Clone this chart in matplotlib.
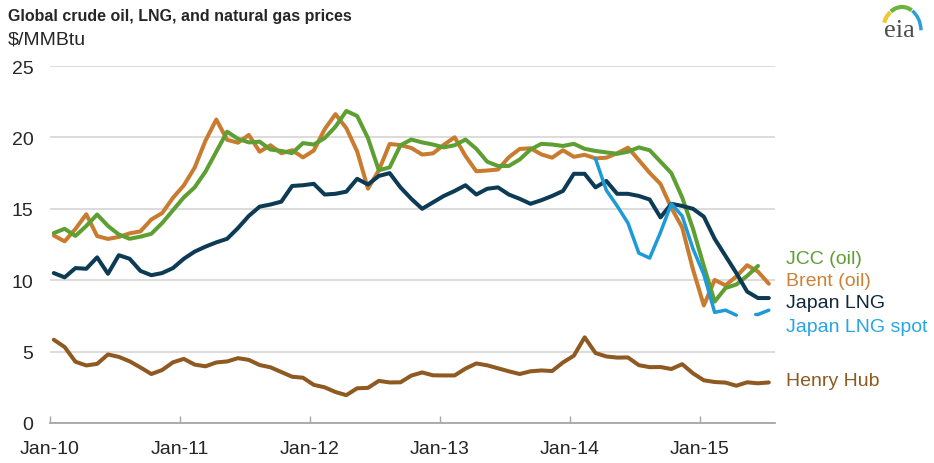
import matplotlib
matplotlib.use("Agg")
import matplotlib.pyplot as plt
import numpy as np
from matplotlib.patches import Arc

plt.rcParams['font.family'] = ['Liberation Sans', 'DejaVu Sans']
plt.rcParams['lines.scale_dashes'] = False

# monthly prices in $/MMBtu, Jan-2010 .. Jul-2015
jcc = [13.3, 13.6, 13.1, 13.8, 14.6, 13.8, 13.2, 12.9, 13.05, 13.25, 14.0, 14.9,
       15.8, 16.5, 17.6, 19.0, 20.4, 19.9, 19.65, 19.7, 19.15, 19.05, 18.9, 19.6,
       19.5, 19.95, 20.75, 21.85, 21.5, 19.95, 17.7, 17.9, 19.45, 19.85, 19.65, 19.5,
       19.3, 19.45, 19.85, 19.2, 18.3, 18.0, 18.0, 18.45, 19.15, 19.55, 19.5, 19.4,
       19.55, 19.2, 19.05, 18.95, 18.85, 19.0, 19.3, 19.1, 18.3, 17.5, 15.8, 13.6,
       11.0, 8.5, 9.45, 9.7, 10.3, 11.0]
brent = [13.13, 12.72, 13.59, 14.62, 13.09, 12.89, 13.03, 13.28, 13.42, 14.25, 14.70, 15.77,
         16.64, 17.88, 19.77, 21.25, 19.83, 19.63, 20.17, 19.00, 19.45, 18.89, 19.10, 18.60,
         19.08, 20.57, 21.63, 20.65, 19.02, 16.41, 17.69, 19.54, 19.46, 19.26, 18.80, 18.88,
         19.48, 20.01, 18.70, 17.63, 17.68, 17.75, 18.61, 19.19, 19.24, 18.81, 18.58, 19.10,
         18.64, 18.78, 18.53, 18.58, 18.89, 19.28, 18.41, 17.52, 16.74, 15.07, 13.70, 10.75,
         8.23, 10.02, 9.64, 10.26, 11.05, 10.60, 9.75]
japan_lng = [10.5, 10.2, 10.85, 10.8, 11.6, 10.45, 11.75, 11.5, 10.65, 10.35, 10.5, 10.85,
             11.5, 12.0, 12.35, 12.65, 12.9, 13.65, 14.5, 15.15, 15.3, 15.5, 16.6, 16.65,
             16.75, 16.0, 16.05, 16.2, 17.1, 16.7, 17.3, 17.5, 16.5, 15.7, 15.0, 15.45,
             15.9, 16.25, 16.65, 16.0, 16.4, 16.5, 16.0, 15.7, 15.35, 15.6, 15.9, 16.25,
             17.45, 17.45, 16.5, 16.95, 16.05, 16.05, 15.9, 15.65, 14.4, 15.35, 15.2, 15.0,
             14.45, 12.9, 11.7, 10.5, 9.2, 8.75, 8.75]
# spot series starts in Mar-2014; the last months are drawn dashed
japan_spot = [18.5, 16.3, 15.2, 14.0, 11.9, 11.55, 13.35, 15.35, 14.5, 12.2, 10.4,
              7.75, 7.9, 7.55, 7.6, 7.6, 7.9]
spot_start = 50
spot_dashed_from = 63
henry_hub = [5.83, 5.32, 4.29, 4.03, 4.14, 4.80, 4.63, 4.32, 3.89, 3.43, 3.71, 4.25,
             4.49, 4.09, 3.97, 4.24, 4.31, 4.54, 4.42, 4.06, 3.90, 3.57, 3.24, 3.17,
             2.67, 2.50, 2.17, 1.95, 2.43, 2.46, 2.95, 2.84, 2.85, 3.32, 3.54, 3.34,
             3.33, 3.33, 3.81, 4.17, 4.04, 3.83, 3.62, 3.43, 3.62, 3.68, 3.64, 4.24,
             4.71, 6.00, 4.90, 4.66, 4.58, 4.59, 4.05, 3.91, 3.92, 3.78, 4.12, 3.48,
             2.99, 2.87, 2.83, 2.61, 2.85, 2.78, 2.84]
year_ticks = ['Jan-10', 'Jan-11', 'Jan-12', 'Jan-13', 'Jan-14', 'Jan-15']

c_jcc = '#5e9f33'
c_brent = '#c97c30'
c_lng = '#0d3b56'
c_spot = '#1d9ad8'
c_hh = '#8e5a21'

W, H = 934, 464
fig = plt.figure(figsize=(W / 100, H / 100), dpi=100)
ax = fig.add_axes([50 / W, 1 - 424 / H, 725 / W, 357 / H])

months = np.arange(len(brent)) + 0.35
lw = 2.9
kw = dict(lw=lw, solid_joinstyle='round', solid_capstyle='round')

ax.plot(months, brent, color=c_brent, **kw)
ax.plot(months[:len(jcc)], jcc, color=c_jcc, **kw)
ax.plot(months, japan_lng, color=c_lng, **kw)
ax.plot(months, henry_hub, color=c_hh, **kw)

spot_x = months[spot_start:spot_start + len(japan_spot)]
n_solid = spot_dashed_from - spot_start + 1
ax.plot(spot_x[:n_solid], japan_spot[:n_solid], color=c_spot, lw=2.5,
        solid_joinstyle='round', solid_capstyle='round')
ax.plot(spot_x[n_solid - 1:], japan_spot[n_solid - 1:], color=c_spot, lw=2.5,
        linestyle=(10, (10, 14)), dash_capstyle='round')

ax.set_xlim(0, 66.92)
ax.set_ylim(0, 25)
ax.set_yticks([0, 5, 10, 15, 20, 25])
ax.set_xticks(np.arange(len(year_ticks)) * 12)
ax.set_xticklabels(year_ticks)
ax.grid(axis='y', color='#d9d9d9', lw=1.3)
ax.set_axisbelow(True)
for s in ['top', 'right', 'left']:
    ax.spines[s].set_visible(False)
ax.spines['bottom'].set_color('#a6a6a6')
ax.spines['bottom'].set_linewidth(1.3)
ax.tick_params(axis='y', length=0, pad=12, labelsize=14, labelcolor='#262626')
ax.tick_params(axis='x', direction='in', length=5, width=1, color='#a6a6a6',
               pad=12, labelsize=14, labelcolor='#262626')

# series labels at the right end
labels = [('JCC (oil)', c_jcc, 260), ('Brent (oil)', '#cd8136', 282),
          ('Japan LNG', '#10283d', 304), ('Japan LNG spot', '#28a5e3', 327),
          ('Henry Hub', c_hh, 382)]
for text, col, py in labels:
    fig.text(786 / W, 1 - py / H, text, color=col, fontsize=14, va='center', ha='left')

fig.text(8 / W, 1 - 16 / H, 'Global crude oil, LNG, and natural gas prices',
         fontsize=11.5, fontweight='bold', color='#262626', va='center')
fig.text(8 / W, 1 - 40 / H, '$/MMBtu', fontsize=14, color='#262626', va='center')

# eia logo
lg = fig.add_axes([868 / W, 1 - 46 / H, 60 / W, 42 / H])
lg.set_xlim(0, 60)
lg.set_ylim(0, 42)
lg.axis('off')
lg.text(31, 15, 'eia', family=['Liberation Serif', 'DejaVu Serif'], fontsize=19,
        color='#4d4d4d', ha='center', va='center')
lg.add_patch(Arc((34, 14), 38, 48, theta1=122, theta2=155, color='#f2c532', lw=3))
lg.add_patch(Arc((34, 14), 38, 48, theta1=65, theta2=120, color='#6db33f', lw=3))
lg.add_patch(Arc((34, 14), 38, 48, theta1=2, theta2=63, color='#2a9fd8', lw=2.5))

fig.savefig('out.png', dpi=100)
